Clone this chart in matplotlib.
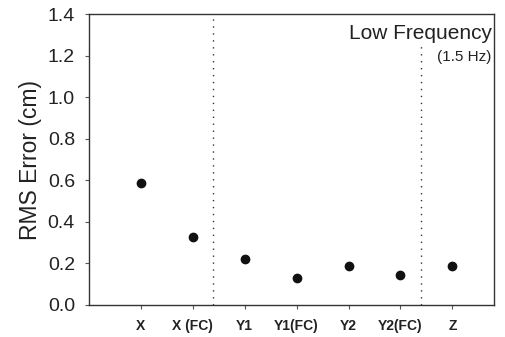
import matplotlib
matplotlib.use('Agg')
import matplotlib.pyplot as plt

# RMS error per axis, low frequency run
conditions = ['X', 'X (FC)', 'Y1', 'Y1(FC)', 'Y2', 'Y2(FC)', 'Z']
rms_error = [0.59, 0.33, 0.22, 0.13, 0.19, 0.145, 0.19]
dividers = [2.4, 6.4]
yticks = [0.0, 0.2, 0.4, 0.6, 0.8, 1.0, 1.2, 1.4]

plt.rcParams['font.family'] = ['Liberation Sans', 'DejaVu Sans']

fig = plt.figure(figsize=(5.05, 3.37), dpi=100)
ax = fig.add_axes([0.176, 0.095, 0.802, 0.862])

pos = list(range(1, len(conditions) + 1))
ax.plot(pos, rms_error, 'o', color='#111111', markersize=6, linestyle='none')

ax.axvline(dividers[0], ymin=0, ymax=1, color='#333333', linestyle=(0, (1, 4)), linewidth=1)
ax.axvline(dividers[1], ymin=0, ymax=0.9, color='#333333', linestyle=(0, (1, 4)), linewidth=1)

ax.set_xlim(0, 7.8)
ax.set_ylim(0, 1.4)
ax.set_xticks(pos)
ax.set_xticklabels(conditions, fontsize=10, fontweight='bold', color='#222222')
ax.set_yticks(yticks)
ax.set_yticklabels(['%.1f' % v for v in yticks], fontsize=14, color='#222222')
ax.tick_params(axis='both', direction='out', length=3, width=0.8, color='#555555')
ax.tick_params(axis='x', pad=7)
ax.tick_params(axis='y', pad=7)

for s in ax.spines.values():
    s.set_color('#333333')
    s.set_linewidth(1.0)

ax.set_ylabel('RMS Error (cm)', fontsize=16.5, color='#222222', labelpad=4)

ax.text(0.995, 0.935, 'Low Frequency', transform=ax.transAxes, ha='right', va='center',
        fontsize=15, color='#222222')
ax.text(0.995, 0.855, '(1.5 Hz)', transform=ax.transAxes, ha='right', va='center',
        fontsize=11, color='#222222')

fig.savefig('out.png', dpi=100)
